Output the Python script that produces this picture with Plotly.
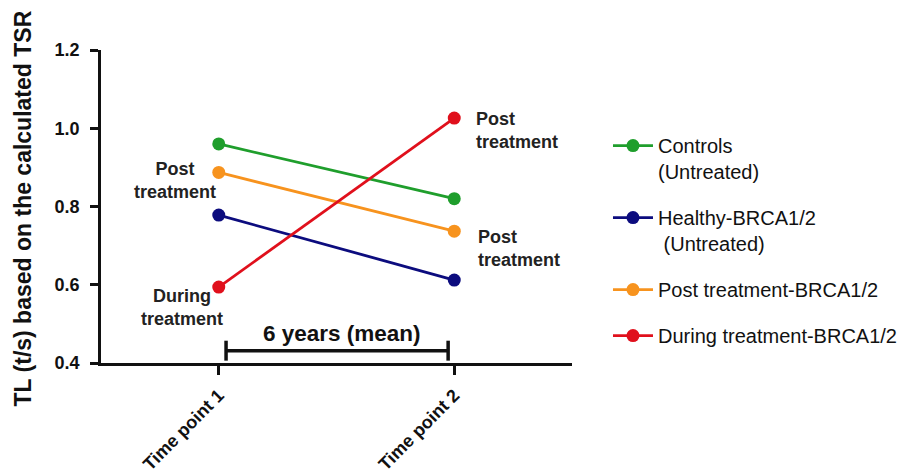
import plotly.graph_objects as go

categories = ["Time point 1", "Time point 2"]
series_names = ["Controls<br>(Untreated)", "Healthy-BRCA1/2<br> (Untreated)",
                "Post treatment-BRCA1/2", "During treatment-BRCA1/2"]
controls = [0.960, 0.820]
healthy = [0.778, 0.612]
post_tx = [0.887, 0.737]
during_tx = [0.594, 1.026]
colors = ["#1f9e2c", "#0c0c7e", "#f7931e", "#e0101c"]
y_ticks = [0.4, 0.6, 0.8, 1.0, 1.2]

FONT = "Liberation Sans, Arial, sans-serif"
fig = go.Figure()
xs = [0, 1]
for name, vals, col in zip(series_names, [controls, healthy, post_tx, during_tx], colors):
    fig.add_trace(go.Scatter(
        x=xs, y=vals, name=name, mode="lines+markers",
        line=dict(color=col, width=2.8),
        marker=dict(color=col, size=13),
        legendgroup=name,
    ))

ann_font = dict(family=FONT, size=18, color="#222")
annotations = [
    dict(x=0, y=post_tx[0], xref="x", yref="y", text="<b>Post<br>treatment</b>",
         showarrow=False, xanchor="center", yanchor="middle", xshift=-44, yshift=-8,
         align="center", font=ann_font),
    dict(x=0, y=during_tx[0], xref="x", yref="y", text="<b>During<br>treatment</b>",
         showarrow=False, xanchor="center", yanchor="middle", xshift=-37, yshift=-20,
         align="center", font=ann_font),
    dict(x=1, y=during_tx[1], xref="x", yref="y", text="<b>Post<br>treatment</b>",
         showarrow=False, xanchor="left", yanchor="middle", xshift=20, yshift=-12,
         align="left", font=ann_font),
    dict(x=1, y=post_tx[1], xref="x", yref="y", text="<b>Post<br>treatment</b>",
         showarrow=False, xanchor="left", yanchor="middle", xshift=22, yshift=-17,
         align="left", font=ann_font),
    dict(x=0.5, y=0.479, xref="x", yref="y", text="<b>6 years (mean)</b>",
         showarrow=False, xanchor="center", yanchor="middle", xshift=5, yshift=-1,
         font=dict(family=FONT, size=22.5, color="#111")),
    dict(x=-0.1656, y=0.4936, xref="paper", yref="paper",
         text="<b>TL (t/s) based on the calculated TSR</b>", textangle=-90,
         showarrow=False, xanchor="center", yanchor="middle",
         font=dict(family=FONT, size=23, color="#111")),
]

shapes = [
    dict(type="line", xref="x", yref="y", x0=0.031, x1=0.974, y0=0.431, y1=0.431,
         line=dict(color="#111", width=3.5)),
    dict(type="line", xref="x", yref="y", x0=0.031, x1=0.031, y0=0.406, y1=0.457,
         line=dict(color="#111", width=3.5)),
    dict(type="line", xref="x", yref="y", x0=0.974, x1=0.974, y0=0.406, y1=0.457,
         line=dict(color="#111", width=3.5)),
]

fig.update_layout(
    width=914, height=465,
    margin=dict(l=93, r=350, t=42, b=110),
    paper_bgcolor="white", plot_bgcolor="white",
    font=dict(family=FONT, color="#111"),
    showlegend=True,
    legend=dict(x=1.0764, y=0.757, xanchor="left", yanchor="top",
                font=dict(family=FONT, size=20, color="#111"),
                tracegroupgap=17, valign="top", itemwidth=40),
    annotations=annotations, shapes=shapes,
    xaxis=dict(range=[-0.5, 1.5], tickvals=xs, ticktext=[f"<b>{c}</b>" for c in categories],
               tickangle=-45, ticks="outside", ticklen=9, tickwidth=2.5, tickcolor="#111",
               showline=True, linecolor="#111", linewidth=2.5, showgrid=False, zeroline=False,
               ticklabelstandoff=3, automargin=False,
               tickfont=dict(family=FONT, size=18, color="#111")),
    yaxis=dict(range=[0.4, 1.2], tickvals=y_ticks,
               ticktext=[f"<b>{v:.1f}</b>" for v in y_ticks],
               ticks="outside", ticklen=8, tickwidth=2.5, tickcolor="#111",
               showline=True, linecolor="#111", linewidth=2.5, showgrid=False, zeroline=False,
               ticklabelstandoff=7, automargin=False,
               tickfont=dict(family=FONT, size=18, color="#111")),
)

fig.write_html("out.html")
